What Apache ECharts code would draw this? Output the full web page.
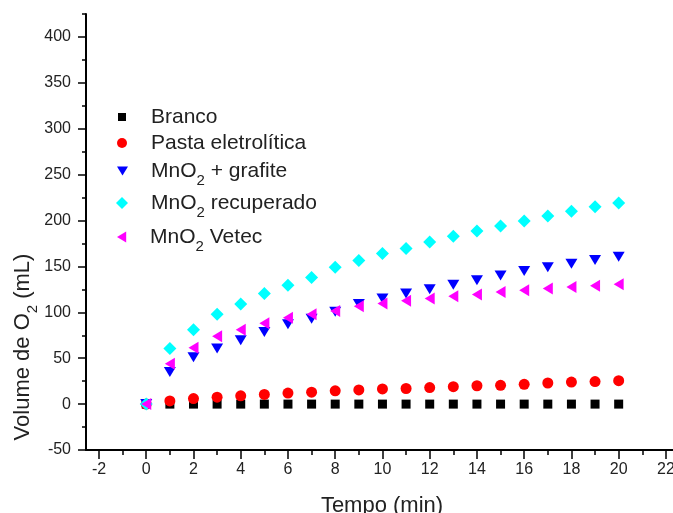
<!DOCTYPE html>
<html>
<head>
<meta charset="utf-8">
<title>Volume de O2</title>
<script src="https://cdn.jsdelivr.net/npm/echarts@6/dist/echarts.min.js"></script>
<style>
  html, body { margin: 0; padding: 0; background: #fff; }
  #chart { width: 673px; height: 513px; }
</style>
</head>
<body>
<div id="chart"></div>
<script>
var tempo = [0, 1, 2, 3, 4, 5, 6, 7, 8, 9, 10, 11, 12, 13, 14, 15, 16, 17, 18, 19, 20];

var branco = [0, 0, 0, 0, 0, 0, 0, 0, 0, 0, 0, 0, 0, 0, 0, 0, 0, 0, 0, 0, 0];
var pasta = [0, 3.5, 6, 7.5, 9, 10.5, 12, 13, 14.5, 15.5, 16.5, 17, 18, 19, 20, 20.5, 21.5, 23, 24, 24.5, 25.5];
var grafite = [0, 35, 51, 60.5, 69.5, 78.5, 87, 93, 100.5, 109, 115, 120.5, 125, 130, 135, 140, 145, 149, 153, 157, 160.5];
var recuperado = [0, 60.5, 81, 98, 109, 120.5, 129.5, 138, 149, 156.5, 164, 169.5, 176.5, 183, 188.5, 194, 199.5, 205, 210, 215, 219];
var vetec = [0, 44, 61.5, 74, 81, 88, 94, 98, 101.5, 106.5, 109.5, 112.5, 115, 117.5, 119.5, 122, 124, 126, 127.5, 129, 130.5];

var seriesNames = ['Branco', 'Pasta eletrolítica', 'MnO2 + grafite', 'MnO2 recuperado', 'MnO2 Vetec'];

var xMajorTicks = [-2, 0, 2, 4, 6, 8, 10, 12, 14, 16, 18, 20, 22];
var xMinorTicks = [-1, 1, 3, 5, 7, 9, 11, 13, 15, 17, 19, 21];
var yMajorTicks = [-50, 0, 50, 100, 150, 200, 250, 300, 350, 400];
var yMinorTicks = [-25, 25, 75, 125, 175, 225, 275, 325, 375, 425];

var FONT = '"Liberation Sans", Arial, sans-serif';
var TEXT = '#222';

var DOWN = 'path://M0,0L12,0L6,10Z';
var LEFT = 'path://M10,0L10,12L0,6Z';

function pairs(values) {
  return tempo.map(function (t, i) { return [t, values[i]]; });
}

// one legend per row, the rows are not evenly spaced in the original
var legendRows = [117, 143, 171, 203, 237];
var legendIcons = ['rect', 'circle', DOWN, 'diamond', LEFT];
var legendSizes = [8, 10, 11, 12, 11];

function makeLegends() {
  return seriesNames.map(function (name, i) {
    var s = legendSizes[i];
    var left = Math.round(122 - s / 2);
    return {
      data: [{ name: name, icon: legendIcons[i] }],
      orient: 'vertical',
      left: left,
      top: legendRows[i] - 17.5,
      padding: 0,
      itemWidth: s,
      itemHeight: s,
      symbolKeepAspect: true,
      selectedMode: false,
      formatter: function (n) { return n.replace('MnO2', 'MnO{sub|2}'); },
      textStyle: {
        fontSize: 21,
        lineHeight: 35,
        fontFamily: FONT,
        color: TEXT,
        padding: [0, 0, 0, 146 - left - s],
        rich: {
          sub: { fontSize: 15, lineHeight: 15, padding: [20, 0, 0, 0], fontFamily: FONT, color: TEXT }
        }
      }
    };
  });
}

function xAxisBase() {
  return {
    type: 'value',
    min: -2.55,
    max: 22.3,
    position: 'bottom',
    splitLine: { show: false }
  };
}

function yAxisBase() {
  return {
    type: 'value',
    min: -50,
    max: 425,
    position: 'left',
    splitLine: { show: false }
  };
}

var xMain = Object.assign(xAxisBase(), {
  name: 'Tempo (min)',
  nameLocation: 'middle',
  nameGap: 45,
  nameTextStyle: { fontSize: 22, fontFamily: FONT, color: TEXT, padding: [0, 0, 0, 5] },
  axisLine: { show: true, onZero: false, lineStyle: { color: '#000', width: 2 } },
  axisTick: { show: true, inside: false, length: 9, customValues: xMajorTicks, lineStyle: { color: '#000', width: 1.5 } },
  axisLabel: { customValues: xMajorTicks, fontSize: 16, fontFamily: FONT, color: TEXT, margin: 12 }
});

var xMinor = Object.assign(xAxisBase(), {
  axisLine: { show: false, onZero: false },
  axisTick: { show: true, inside: false, length: 5, customValues: xMinorTicks, lineStyle: { color: '#000', width: 1.5 } },
  axisLabel: { show: false }
});

var yMain = Object.assign(yAxisBase(), {
  axisLine: { show: true, onZero: false, lineStyle: { color: '#000', width: 2 } },
  axisTick: { show: true, inside: false, length: 8, customValues: yMajorTicks, lineStyle: { color: '#000', width: 1.5 } },
  axisLabel: { customValues: yMajorTicks, fontSize: 16, fontFamily: FONT, color: TEXT, margin: 15 }
});

var yMinor = Object.assign(yAxisBase(), {
  axisLine: { show: false, onZero: false },
  axisTick: { show: true, inside: false, length: 4, customValues: yMinorTicks, lineStyle: { color: '#000', width: 1.5 } },
  axisLabel: { show: false }
});

var chart = echarts.init(document.getElementById('chart'), null, { renderer: 'canvas' });

chart.setOption({
  animation: false,
  backgroundColor: '#fff',
  grid: { left: 86, right: 0, top: 14, bottom: 63, containLabel: false, outerBoundsMode: 'none' },
  legend: makeLegends(),
  xAxis: [xMain, xMinor],
  yAxis: [yMain, yMinor],
  graphic: [{
    type: 'text',
    x: 23,
    y: 347,
    rotation: Math.PI / 2,
    style: {
      text: 'Volume de O{sub|2} (mL)',
      fontSize: 22,
      fontFamily: FONT,
      lineHeight: 35,
      fill: TEXT,
      align: 'center',
      verticalAlign: 'middle',
      rich: {
        sub: { fontSize: 15, lineHeight: 15, padding: [20, 0, 0, 0], fontFamily: FONT, fill: TEXT }
      }
    }
  }],
  series: [
    { name: seriesNames[0], type: 'scatter', symbol: 'rect', symbolSize: 9, itemStyle: { color: '#000000', opacity: 1 }, data: pairs(branco) },
    { name: seriesNames[1], type: 'scatter', symbol: 'circle', symbolSize: 11, itemStyle: { color: '#ff0000', opacity: 1 }, data: pairs(pasta) },
    { name: seriesNames[2], type: 'scatter', symbol: DOWN, symbolSize: [12, 10], itemStyle: { color: '#0000ff', opacity: 1 }, data: pairs(grafite) },
    { name: seriesNames[3], type: 'scatter', symbol: 'diamond', symbolSize: 13, itemStyle: { color: '#00ffff', opacity: 1 }, data: pairs(recuperado) },
    { name: seriesNames[4], type: 'scatter', symbol: LEFT, symbolSize: [10, 12], itemStyle: { color: '#ff00ff', opacity: 1 }, data: pairs(vetec) }
  ]
});
</script>
</body>
</html>
